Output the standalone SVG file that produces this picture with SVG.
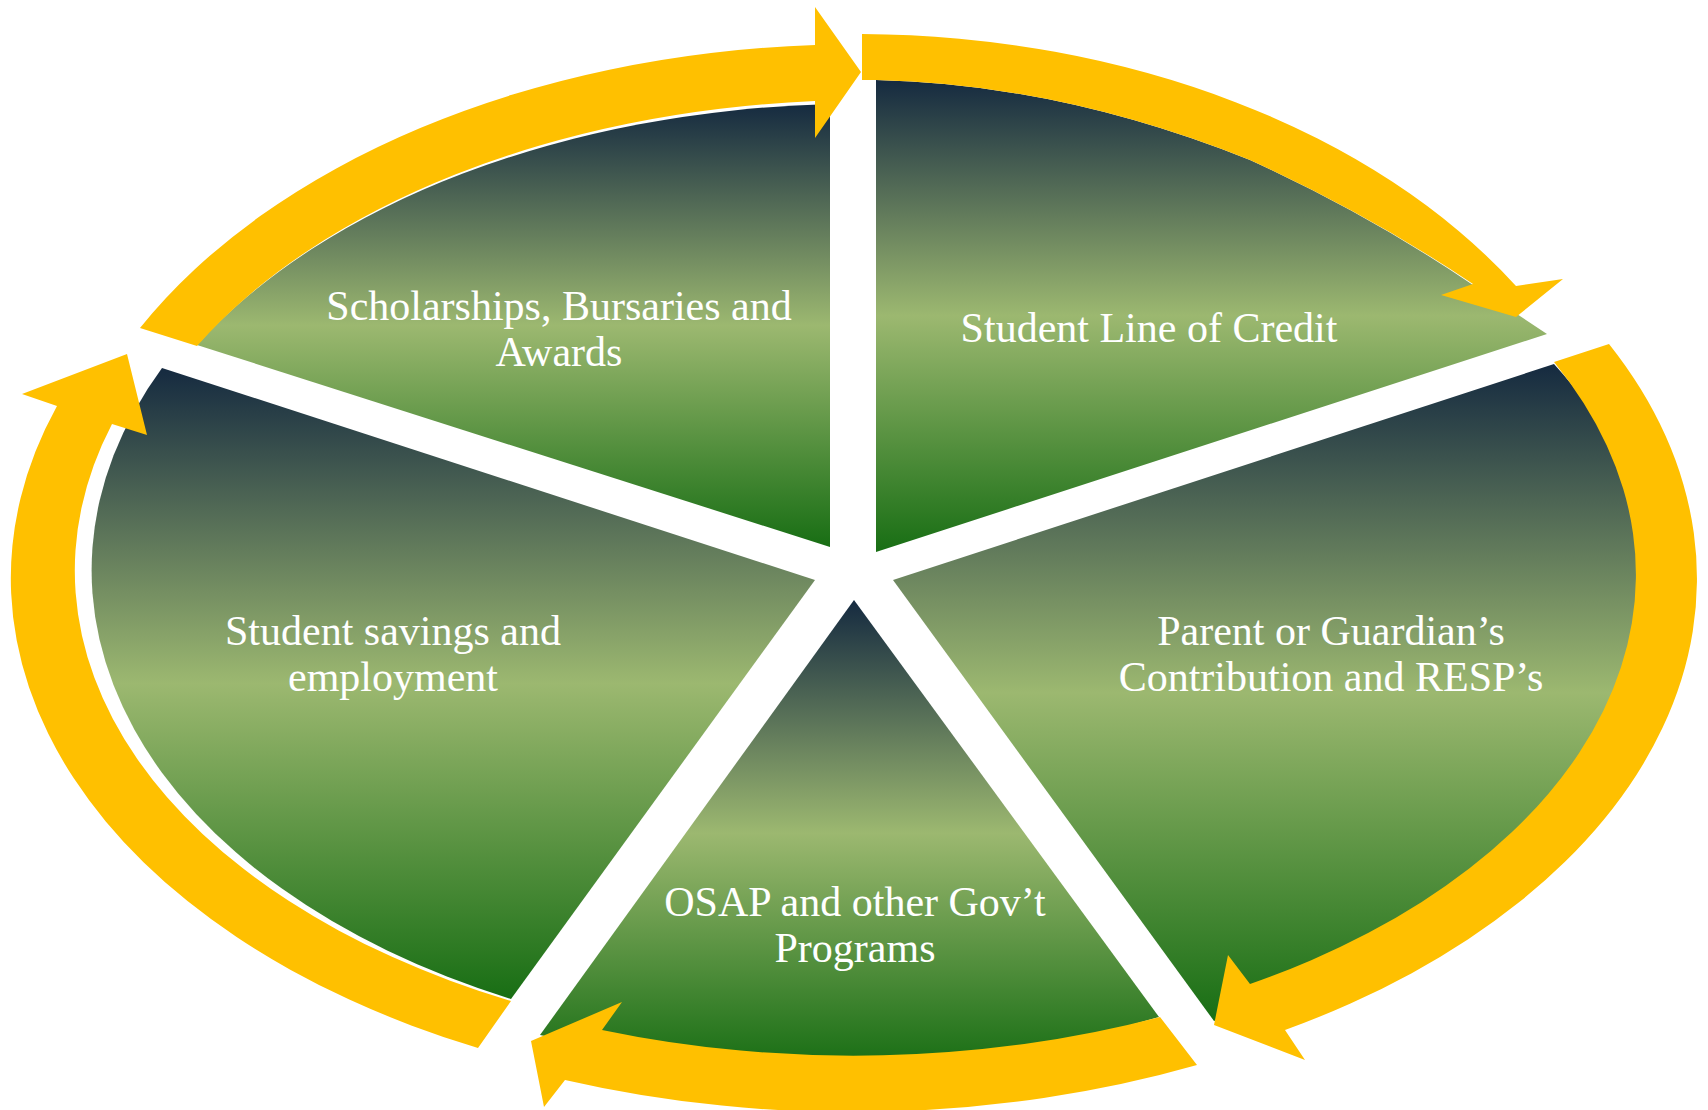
<svg xmlns="http://www.w3.org/2000/svg" width="1708" height="1110" viewBox="0 0 1708 1110">
<defs>
<linearGradient id="g" x1="0" y1="0" x2="0" y2="1">
<stop offset="0" stop-color="#152a40"/>
<stop offset="0.5" stop-color="#9cb870"/>
<stop offset="1" stop-color="#186e14"/>
</linearGradient>
<style>
.seg{fill:url(#g);}
.arr{fill:#FFC000;}
.lbl{font-family:"Liberation Serif","Times New Roman",serif;font-size:42px;fill:#ffffff;text-anchor:middle;}
</style>
</defs>
<rect width="1708" height="1110" fill="#ffffff"/>
<g id="node-scholarships">
<path class="seg" d="M197,345 L830,547 L830,104 A 763 472 0 0 0 197,345 Z"/>
<text class="lbl" x="559" y="320">Scholarships, Bursaries and</text>
<text class="lbl" x="559" y="366">Awards</text>
</g>
<g id="node-credit">
<path class="seg" d="M876,80 Q 1060,84 1250,160 Q 1370,215 1473,285 L1547,334 L876,552 Z"/>
<text class="lbl" x="1149" y="342">Student Line of Credit</text>
</g>
<g id="node-parent">
<path class="seg" d="M893,580 L1554,364 A 758 470 0 0 1 1214,1021 Z"/>
<text class="lbl" x="1331" y="645">Parent or Guardian’s</text>
<text class="lbl" x="1331" y="691">Contribution and RESP’s</text>
</g>
<g id="node-osap">
<path class="seg" d="M854,600 L1159,1017 A 786 488 0 0 1 540,1035 Z"/>
<text class="lbl" x="855" y="916">OSAP and other Gov’t</text>
<text class="lbl" x="855" y="962">Programs</text>
</g>
<g id="node-savings">
<path class="seg" d="M162,368 L815,580 L511,999 A 742 476 0 0 1 162,368 Z"/>
<text class="lbl" x="393" y="645">Student savings and</text>
<text class="lbl" x="393" y="691">employment</text>
</g>
<g id="connectors">
<path class="arr" d="M140,328 A 810 530 0 0 1 815,45 L815,7 L861,72 L815,138 L815,101 A 763 472 0 0 0 197,346 Z"/>
<path class="arr" d="M862,34 A 780 540 0 0 1 1516,286 L1563,279 L1516,317 L1441,295 L1473,284 Q 1370,215 1250,160 Q 1060,84 876,80 L862,80 Z"/>
<path class="arr" d="M1609,344 A 818 520 0 0 1 1285,1030 L1305,1060 L1214,1025 L1228,955 L1250,984 A 758 470 0 0 0 1554,362 Z"/>
<path class="arr" d="M1160,1017 L1197,1065 A 843 537 0 0 1 565,1080 L544,1107 L531,1041 L622,1002 L602,1030 A 786 488 0 0 0 1160,1017 Z"/>
<path class="arr" d="M478,1048 A 818 520 0 0 1 57,406 L22,394 L127,354 L147,435 L112,424 A 772 478 0 0 0 511,1001 Z"/>
</g>
</svg>
